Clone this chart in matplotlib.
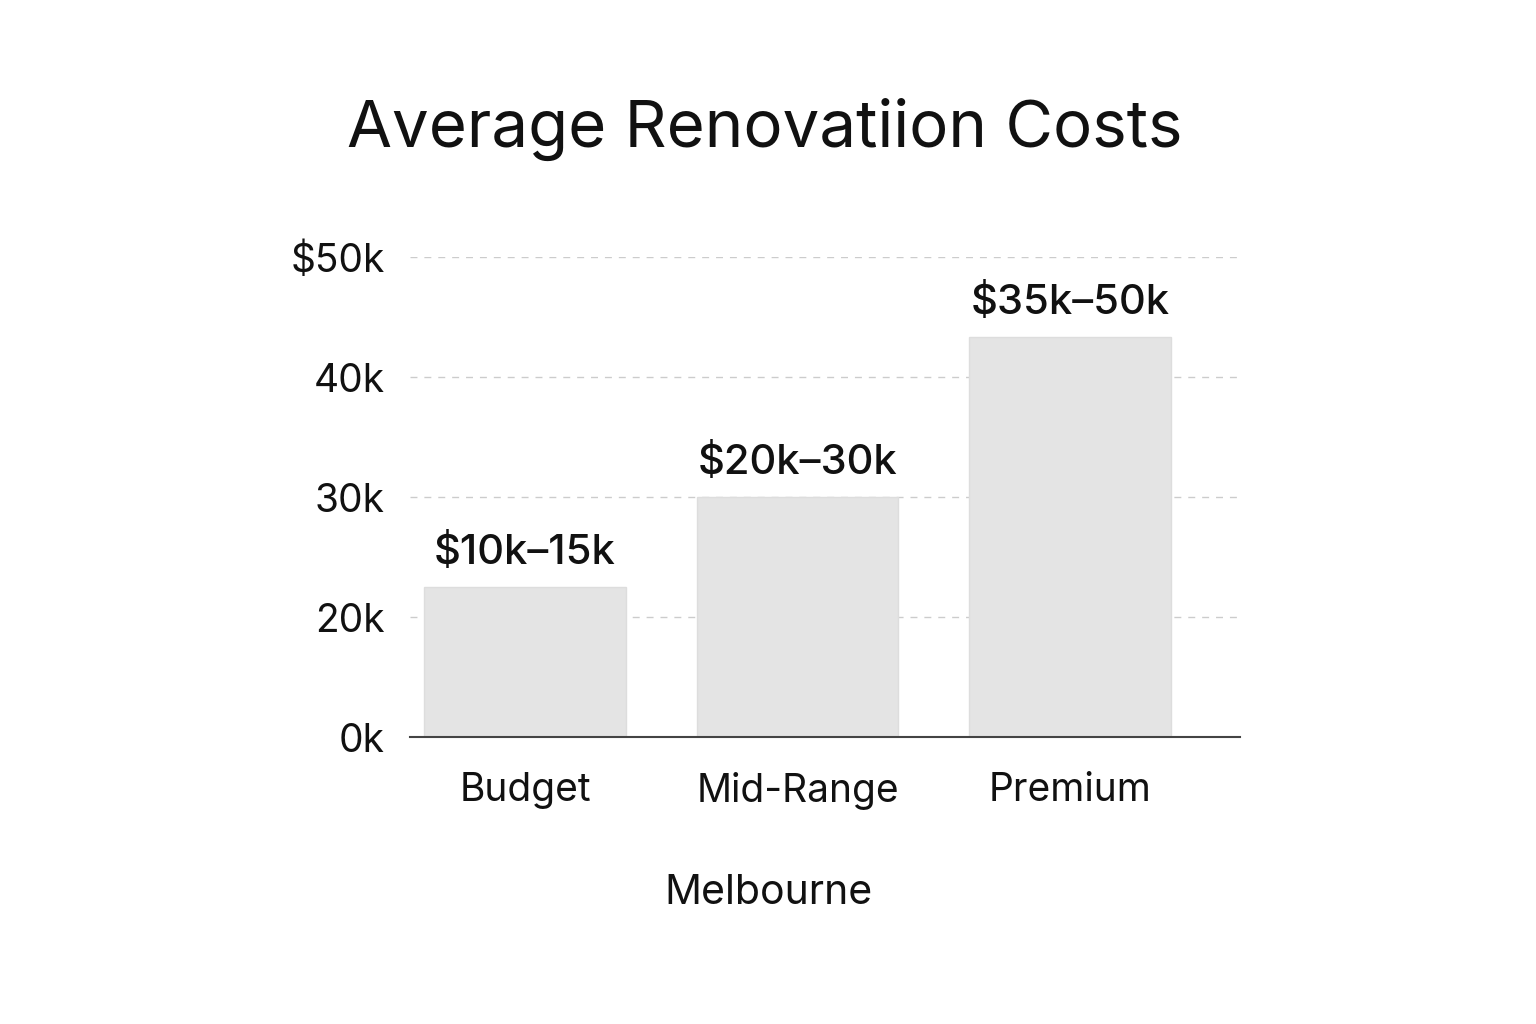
import numpy as np
import matplotlib
matplotlib.use("Agg")
import matplotlib.pyplot as plt

categories = ["Budget", "Mid-Range", "Premium"]
values_k = [22.5, 30.0, 43.3]          # bar heights in $k as drawn
bar_labels = ["$10k\u201315k", "$20k\u201330k", "$35k\u201350k"]
tick_values = [0, 20, 30, 40, 50]
tick_labels = ["0k", "20k", "30k", "40k", "$50k"]
title = "Average Renovatiion Costs"
xlabel = "Melbourne"

plt.rcParams['font.family'] = ['Inter', 'DejaVu Sans']

# piecewise axis: tick positions evenly spaced
tick_pos = np.arange(len(tick_values), dtype=float)
def fwd(v):
    return np.interp(v, tick_values, tick_pos)
def inv(p):
    return np.interp(p, tick_pos, tick_values)

fig = plt.figure(figsize=(15.36, 10.24), dpi=100)
fig.patch.set_facecolor("white")
ax = fig.add_axes([410/1536, 1-737/1024, 830/1536, 480/1024])
ax.set_yscale('function', functions=(fwd, inv))
ax.set_ylim(0, 50)
ax.set_xlim(-0.422, 2.624)

x = np.arange(len(categories))
bars = ax.bar(x, values_k, width=0.74, color="#e4e4e4", edgecolor="#dddddd",
              linewidth=1, zorder=2)
for b, lab in zip(bars, bar_labels):
    ax.annotate(lab, (b.get_x() + b.get_width()/2, b.get_height()),
                xytext=(0, 11), textcoords="offset points",
                ha="center", va="bottom", fontsize=30, color="#111111",
                fontweight="medium")

ax.set_yticks(tick_values)
ax.set_yticklabels(tick_labels)
ax.set_xticks(x)
ax.set_xticklabels(categories)
ax.tick_params(axis='y', length=0, pad=18, labelsize=28, labelcolor="#111111")
ax.tick_params(axis='x', length=0, pad=25, labelsize=28, labelcolor="#111111")
ax.yaxis.grid(True, linestyle=(0, (5, 5)), color="#cccccc", linewidth=1, zorder=0)
ax.set_axisbelow(True)
for s in ["top", "right", "left"]:
    ax.spines[s].set_visible(False)
ax.spines["bottom"].set_color("#444444")
ax.spines["bottom"].set_linewidth(1.5)
ax.spines["bottom"].set_zorder(3)

fig.text(765/1536, 1-129/1024, title, ha="center", va="center", fontsize=47, color="#111111")
fig.text(768/1536, 1-893/1024, xlabel, ha="center", va="center", fontsize=29.5, color="#111111")

fig.savefig("out.png", dpi=100, facecolor="white")
